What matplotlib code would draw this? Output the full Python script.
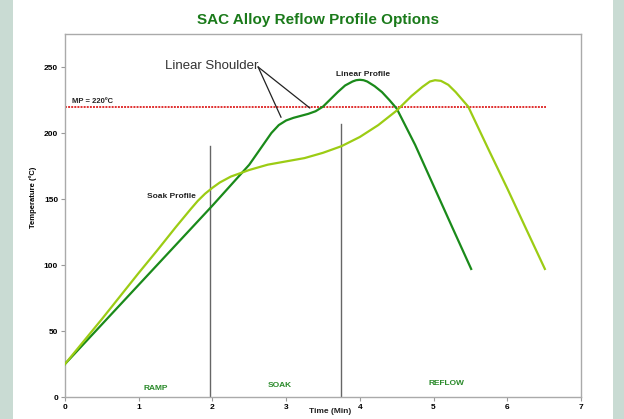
import matplotlib.pyplot as plt
from matplotlib.patches import Rectangle

# Linear profile (dark green)
linear_t = [0, 0.5, 1.0, 1.5, 2.0, 2.5, 2.7, 2.8, 2.9, 3.0, 3.1, 3.2, 3.3, 3.4, 3.5,
            3.6, 3.7, 3.8, 3.9, 3.95, 4.0, 4.05, 4.1, 4.2, 4.3, 4.4, 4.5, 4.75,
            5.0, 5.25, 5.51]
linear_temp = [25, 55, 85, 115, 145, 176, 192, 200, 206, 209.5, 211.5, 213, 214.5, 216.5, 220,
               225.5, 231, 236, 239, 240, 240.3, 240, 239, 235.5, 231, 225, 218.5, 191,
               160, 129, 97]

# Soak profile (light green)
soak_t = [0, 0.5, 1.0, 1.25, 1.5, 1.7, 1.8, 1.9, 2.0, 2.1, 2.25, 2.5, 2.75, 3.0, 3.25,
          3.5, 3.75, 4.0, 4.25, 4.5, 4.7, 4.85, 4.95, 5.02, 5.1, 5.2, 5.3, 5.47,
          5.75, 6.0, 6.25, 6.51]
soak_temp = [25, 59, 94, 111, 128.5, 142, 148.5, 154, 158.5, 162.5, 167, 172, 176, 178.5, 181,
             185, 190, 197, 206, 217, 228, 235, 239, 240, 239.5, 236.5, 231, 220,
             187, 158, 128, 97]

phase_lines = [(1.97, 190), (3.74, 207)]
phases = ["RAMP", "SOAK", "REFLOW"]
phase_pos = [(1.23, 3.5), (2.92, 6), (5.18, 7.5)]
melt_point = 220

DARK = '#1a8a1a'
LIGHT = '#9ccc14'
TXT_GREEN = '#2a8a2a'

plt.rcParams['font.family'] = ['Liberation Sans', 'DejaVu Sans']

fig = plt.figure(figsize=(6.24, 4.19), dpi=100, facecolor='#c9dbd3')
fig.patches.append(Rectangle((13 / 624, 0), 600 / 624, 1, transform=fig.transFigure,
                             facecolor='white', edgecolor='none', zorder=-1))

ax = fig.add_axes([65 / 624, 22 / 419, 516 / 624, 363 / 419])
ax.set_zorder(2)
ax.set_facecolor('white')

ax.plot(linear_t, linear_temp, color=DARK, lw=1.6, zorder=3, solid_joinstyle='round')
ax.plot(soak_t, soak_temp, color=LIGHT, lw=1.6, zorder=3, solid_joinstyle='round')

ax.plot([0, 6.53], [melt_point, melt_point], color='#e03030', lw=1.4,
        linestyle=(0, (1, 0.6)), zorder=2)
ax.text(0.1, melt_point + 3, 'MP = 220ºC', fontsize=5.5, fontweight='bold', color='#222')

for x, top in phase_lines:
    ax.plot([x, x], [0, top], color='#666666', lw=1.0, zorder=2)

for name, (x, y) in zip(phases, phase_pos):
    ax.text(x, y, name, fontsize=6, fontweight='bold', color=TXT_GREEN,
            ha='center', va='bottom')

ax.text(1.44, 152, 'Soak Profile', fontsize=6, fontweight='bold', color='#222',
        ha='center', va='center')
ax.text(4.04, 244, 'Linear Profile', fontsize=6, fontweight='bold', color='#222',
        ha='center', va='center')

ax.text(2.62, 251, 'Linear Shoulder', fontsize=9.5, color='#333', ha='right', va='center')
for end in [(2.93, 212), (3.32, 219)]:
    ax.plot([2.62, end[0]], [250, end[1]], color='#222', lw=0.9, zorder=4)

ax.set_xlim(0, 7)
ax.set_ylim(0, 275)
ax.set_xticks(range(0, 8))
ax.set_yticks(range(0, 251, 50))
ax.tick_params(labelsize=6, length=3, color='#999999', width=0.8, pad=2)
for lab in ax.get_xticklabels() + ax.get_yticklabels():
    lab.set_fontweight('bold')
for sp in ax.spines.values():
    sp.set_color('#aaaaaa')
    sp.set_linewidth(1.0)

ax.set_ylabel('Temperature (ºC)', fontsize=5.5, fontweight='bold')
ax.yaxis.set_label_coords(-0.055, 0.55)
ax.text(3.6, -11, 'Time (Min)', fontsize=6, fontweight='bold', color='#222',
        ha='center', va='center', clip_on=False)

fig.text(318 / 624, 1 - 20 / 419, 'SAC Alloy Reflow Profile Options', fontsize=11,
         fontweight='bold', color='#1a7a1a', ha='center', va='center')

fig.savefig('out.png', dpi=100, facecolor=fig.get_facecolor())
